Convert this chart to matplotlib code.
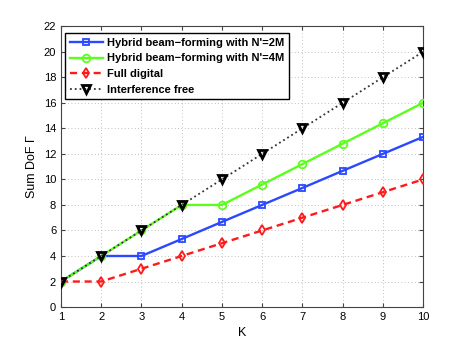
import numpy as np
import matplotlib
matplotlib.use('Agg')
import matplotlib.pyplot as plt

K = [1, 2, 3, 4, 5, 6, 7, 8, 9, 10]
hyb_2M = [2, 4, 4, 5.33, 6.67, 8, 9.33, 10.67, 12, 13.33]
hyb_4M = [2, 4, 6, 8, 8, 9.6, 11.2, 12.8, 14.4, 16]
full_dig = [2, 2, 3, 4, 5, 6, 7, 8, 9, 10]
intf_free = [2, 4, 6, 8, 10, 12, 14, 16, 18, 20]

plt.rcParams['font.family'] = ['Liberation Sans', 'DejaVu Sans']
fig = plt.figure(figsize=(4.67, 3.45), dpi=100)
ax = fig.add_axes([0.1306, 0.110, 0.7754, 0.814])

ax.plot(K, hyb_2M, '-', color='#2a48ff', lw=1.7, marker='s', ms=4.5, mfc='none',
        mew=1.3, label="Hybrid beam\u2212forming with N'=2M", zorder=3)
ax.plot(K, hyb_4M, '-', color='#5cff1c', lw=1.7, marker='o', ms=5.5, mfc='none',
        mew=1.3, label="Hybrid beam\u2212forming with N'=4M", zorder=3)
ax.plot(K, full_dig, '--', color='#ff1a1a', lw=1.7, marker='d', ms=5.5, mfc='none',
        mew=1.3, dashes=(3, 2), label='Full digital', zorder=3)
ax.plot(K, intf_free, ':', color='#333333', lw=1.3, marker='v', ms=5.8, mfc='none',
        mec='k', mew=2, label='Interference free', zorder=4)

ax.set_xlim(1, 10)
ax.set_ylim(0, 22)
ax.set_xticks(range(1, 11))
ax.set_yticks(range(0, 23, 2))
ax.tick_params(direction='in', labelsize=8, length=3, top=True, right=True,
               color='#444444')
ax.grid(True, color='#aaaaaa', lw=0.6, dashes=(1, 3))
for s in ax.spines.values():
    s.set_color('#444444')
ax.set_xlabel('K', fontsize=9)
ax.set_ylabel('Sum DoF \u0393', fontsize=9)

leg = ax.legend(loc='upper left', bbox_to_anchor=(0.011, 0.975),
                prop={'weight': 'bold', 'size': 8.0},
                fancybox=False, edgecolor='k', framealpha=1, borderaxespad=0,
                handlelength=3.0, labelspacing=0.5, borderpad=0.42,
                handletextpad=0.4)
leg.get_frame().set_linewidth(1.0)

fig.savefig('out.png', dpi=100)
